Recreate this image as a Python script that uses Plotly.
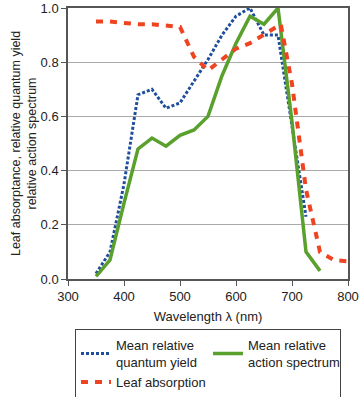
import plotly.graph_objects as go

# Mean relative quantum yield
qy_x = [350, 375, 400, 425, 450, 475, 500, 525, 550, 575, 600, 625, 650, 675, 700, 725]
qy_y = [0.02, 0.10, 0.35, 0.68, 0.70, 0.63, 0.65, 0.73, 0.81, 0.90, 0.97, 1.00, 0.90, 0.90, 0.56, 0.23]

# Mean relative action spectrum
as_x = [350, 375, 400, 425, 450, 475, 500, 525, 550, 575, 600, 625, 650, 675, 700, 725, 750]
as_y = [0.01, 0.07, 0.28, 0.48, 0.52, 0.49, 0.53, 0.55, 0.60, 0.75, 0.87, 0.97, 0.94, 1.00, 0.58, 0.10, 0.03]

# Leaf absorption
la_x = [350, 375, 400, 425, 450, 475, 500, 525, 550, 575, 600, 625, 650, 680, 700, 725, 750, 775, 800]
la_y = [0.95, 0.95, 0.945, 0.94, 0.94, 0.935, 0.93, 0.82, 0.77, 0.81, 0.85, 0.87, 0.90, 0.94, 0.72, 0.33, 0.10, 0.07, 0.065]

x_ticks = [300, 400, 500, 600, 700, 800]
y_ticks = [0.0, 0.2, 0.4, 0.6, 0.8, 1.0]

FONT = "Liberation Sans, Arial, sans-serif"

fig = go.Figure()
fig.add_trace(go.Scatter(x=qy_x, y=qy_y, mode="lines", name="Mean relative<br>quantum yield",
                         line=dict(color="#1f4e9c", width=3, dash="3px,2px")))
fig.add_trace(go.Scatter(x=as_x, y=as_y, mode="lines", name="Mean relative<br>action spectrum",
                         line=dict(color="#5aa02c", width=3.5)))
fig.add_trace(go.Scatter(x=la_x, y=la_y, mode="lines", name="Leaf absorption",
                         line=dict(color="#ee4422", width=4, dash="7px,7px")))

fig.update_layout(
    width=360, height=397,
    margin=dict(l=68, r=12, t=8, b=118, autoexpand=False),
    paper_bgcolor="white", plot_bgcolor="white",
    font=dict(family=FONT, size=13, color="#222"),
    showlegend=True,
    legend=dict(orientation="h", x=0.025, y=-0.185, xanchor="left", yanchor="top",
                bordercolor="#444", borderwidth=1, bgcolor="white",
                itemwidth=30, entrywidth=87, entrywidthmode="pixels",
                font=dict(size=13, family=FONT), tracegroupgap=0),
    xaxis=dict(range=[300, 800], tickvals=x_ticks, ticktext=[str(v) for v in x_ticks],
               showgrid=False, showline=True, linecolor="#555", linewidth=1.5, mirror=True,
               ticks="outside", ticklen=5, tickcolor="#555", zeroline=False,
               title=dict(text="Wavelength λ (nm)", font=dict(size=13), standoff=9)),
    yaxis=dict(range=[0, 1], tickvals=y_ticks, ticktext=[f"{v:.1f}" for v in y_ticks],
               showgrid=True, gridcolor="#aaa", gridwidth=1,
               showline=True, linecolor="#555", linewidth=1.5, mirror=True,
               ticks="outside", ticklen=5, tickcolor="#555", zeroline=False,
               title=dict(text="Leaf absorptance, relative quantum yield<br>relative action spectrum",
                          font=dict(size=12.5), standoff=1)),
)

fig.write_html("out.html", config={"displayModeBar": False},
               post_script="document.body.style.margin='0';document.body.style.padding='0';")
